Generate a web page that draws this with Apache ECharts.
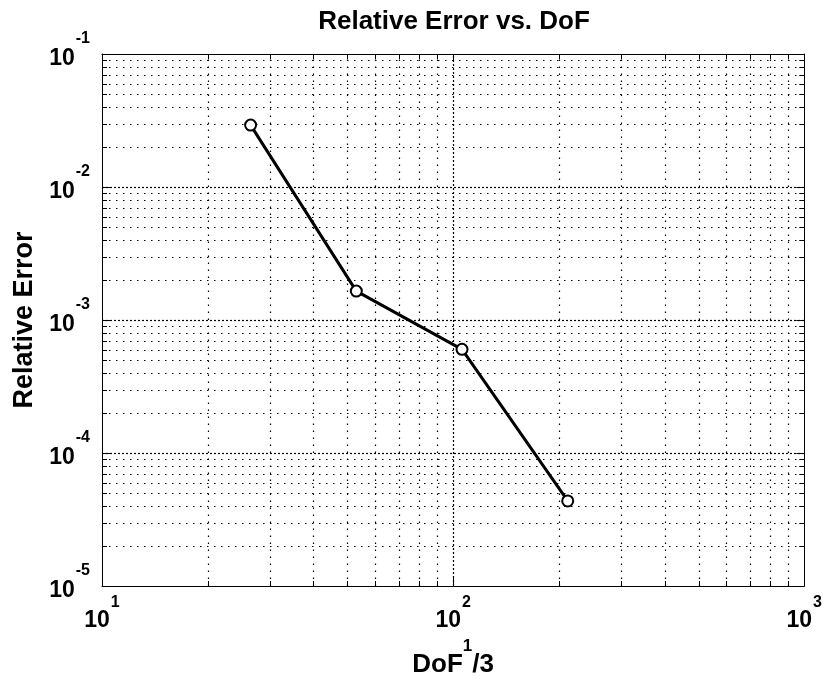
<!DOCTYPE html>
<html>
<head>
<meta charset="utf-8">
<script src="https://cdn.jsdelivr.net/npm/echarts@6/dist/echarts.min.js"></script>
<style>
html,body{margin:0;padding:0;background:#fff;}
#chart{width:825px;height:683px;}
</style>
</head>
<body>
<div id="chart"></div>
<script>
// ---- data ----
const dofCubeRoot = [26.5, 53, 106, 212];
const relativeError = [0.0292, 0.00165, 0.000602, 0.0000436];

// ---- axis ranges & grid/tick positions ----
const xRange = [10, 1000];
const yRange = [1e-5, 1e-1];
const xMinorLines = [20, 30, 40, 50, 60, 70, 80, 90, 200, 300, 400, 500, 600, 700, 800, 900];
const xMajorLines = [100];
const yMinorLines = [2e-5, 3e-5, 4e-5, 5e-5, 6e-5, 7e-5, 8e-5, 9e-5,
                     2e-4, 3e-4, 4e-4, 5e-4, 6e-4, 7e-4, 8e-4, 9e-4,
                     2e-3, 3e-3, 4e-3, 5e-3, 6e-3, 7e-3, 8e-3, 9e-3,
                     2e-2, 3e-2, 4e-2, 5e-2, 6e-2, 7e-2, 8e-2, 9e-2];
const yMajorLines = [1e-4, 1e-3, 1e-2];

const FONT = 'Liberation Sans, Arial, Helvetica, sans-serif';

const gridItems = [];
xMinorLines.forEach(v => gridItems.push([v, yRange[0], 0]));
xMajorLines.forEach(v => gridItems.push([v, yRange[0], 1]));
yMinorLines.forEach(v => gridItems.push([xRange[0], v, 2]));
yMajorLines.forEach(v => gridItems.push([xRange[0], v, 3]));

const crisp = v => Math.round(v) + 0.5;

function renderGrid(params, api) {
  const kind = api.value(2);
  const children = [];
  const dotted = [1.5, 5.5];
  const dense = [2, 2];
  const minorLen = 5;
  const gs = {stroke: '#000', lineWidth: 1.2};
  if (kind < 2) {
    const x = api.value(0);
    const p0 = api.coord([x, yRange[0]]);
    const p1 = api.coord([x, yRange[1]]);
    const cx = crisp(p0[0]);
    children.push({type: 'line', shape: {x1: cx, y1: p0[1], x2: cx, y2: p1[1]},
      style: Object.assign({}, gs, {lineDash: kind === 1 ? dense : dotted})});
    if (kind === 0) {
      children.push({type: 'line', shape: {x1: cx, y1: p0[1], x2: cx, y2: p0[1] - minorLen}, style: {stroke: '#000', lineWidth: 1}});
      children.push({type: 'line', shape: {x1: cx, y1: p1[1], x2: cx, y2: p1[1] + minorLen}, style: {stroke: '#000', lineWidth: 1}});
    }
  } else {
    const y = api.value(1);
    const p0 = api.coord([xRange[0], y]);
    const p1 = api.coord([xRange[1], y]);
    const cy = crisp(p0[1]);
    children.push({type: 'line', shape: {x1: p0[0], y1: cy, x2: p1[0], y2: cy},
      style: Object.assign({}, gs, {lineDash: kind === 3 ? dense : dotted})});
    if (kind === 2) {
      children.push({type: 'line', shape: {x1: p0[0], y1: cy, x2: p0[0] + minorLen, y2: cy}, style: {stroke: '#000', lineWidth: 1}});
      children.push({type: 'line', shape: {x1: p1[0], y1: cy, x2: p1[0] - minorLen, y2: cy}, style: {stroke: '#000', lineWidth: 1}});
    }
  }
  return {type: 'group', children: children};
}

const powLabel = v => '{b|10}{s|' + Math.round(Math.log10(v)) + '}';

const tickRich = {
  b: {fontFamily: FONT, fontSize: 23, fontWeight: 'bold', color: '#000', lineHeight: 23, padding: [16, 0, 0, 0]},
  s: {fontFamily: FONT, fontSize: 16, fontWeight: 'bold', color: '#000', lineHeight: 16, padding: [0, 0, 23, 1]}
};
const xTickRich = {
  b: {fontFamily: FONT, fontSize: 23, fontWeight: 'bold', color: '#000', lineHeight: 23, padding: [14, 0, 0, 0]},
  s: {fontFamily: FONT, fontSize: 16, fontWeight: 'bold', color: '#000', lineHeight: 16, padding: [0, 0, 21, 1]}
};

const axisBase = {
  type: 'log',
  logBase: 10,
  splitLine: {show: false},
  minorTick: {show: false},
  axisLine: {show: true, onZero: false, lineStyle: {color: '#000', width: 1}},
  axisTick: {show: true, inside: true, length: 8, lineStyle: {color: '#000', width: 1}}
};

const chart = echarts.init(document.getElementById('chart'), null, {renderer: 'canvas'});
chart.setOption({
  animation: false,
  backgroundColor: '#fff',
  title: {
    text: 'Relative Error vs. DoF',
    left: 454,
    top: 9,
    padding: 0,
    textAlign: 'center',
    textStyle: {fontFamily: FONT, fontSize: 26, fontWeight: 'bold', color: '#000'}
  },
  grid: {left: 102, right: 19, top: 54, bottom: 97, containLabel: false},
  xAxis: [
    Object.assign({}, axisBase, {
      position: 'bottom', min: xRange[0], max: xRange[1],
      name: '{b|DoF}{s|1}{b|/3}',
      nameLocation: 'middle', nameGap: 59,
      nameTextStyle: {
        rich: {
          b: {fontFamily: FONT, fontSize: 26, fontWeight: 'bold', color: '#000', lineHeight: 26, padding: [14, 0, 0, 0]},
          s: {fontFamily: FONT, fontSize: 17, fontWeight: 'bold', color: '#000', lineHeight: 17, padding: [0, 0, 23, 0]}
        }
      },
      axisLabel: {show: true, margin: 16, formatter: powLabel, rich: xTickRich}
    }),
    Object.assign({}, axisBase, {
      position: 'top', min: xRange[0], max: xRange[1],
      axisLabel: {show: false}
    })
  ],
  yAxis: [
    Object.assign({}, axisBase, {
      position: 'left', min: yRange[0], max: yRange[1],
      name: 'Relative Error',
      nameLocation: 'middle', nameGap: 64,
      nameTextStyle: {fontFamily: FONT, fontSize: 27, fontWeight: 'bold', color: '#000'},
      axisLabel: {show: true, margin: 12, formatter: powLabel, rich: tickRich, padding: [0, 0, 7, 0]}
    }),
    Object.assign({}, axisBase, {
      position: 'right', min: yRange[0], max: yRange[1],
      axisLabel: {show: false}
    })
  ],
  series: [
    {
      type: 'custom',
      xAxisIndex: 0, yAxisIndex: 0,
      renderItem: renderGrid,
      data: gridItems,
      silent: true,
      z: 1
    },
    {
      type: 'line',
      xAxisIndex: 0, yAxisIndex: 0,
      data: dofCubeRoot.map((x, i) => [x, relativeError[i]]),
      symbol: 'emptyCircle',
      symbolSize: 11,
      lineStyle: {color: '#000', width: 3},
      itemStyle: {color: '#000', borderColor: '#000', borderWidth: 2.5},
      z: 5
    }
  ]
});
</script>
</body>
</html>
